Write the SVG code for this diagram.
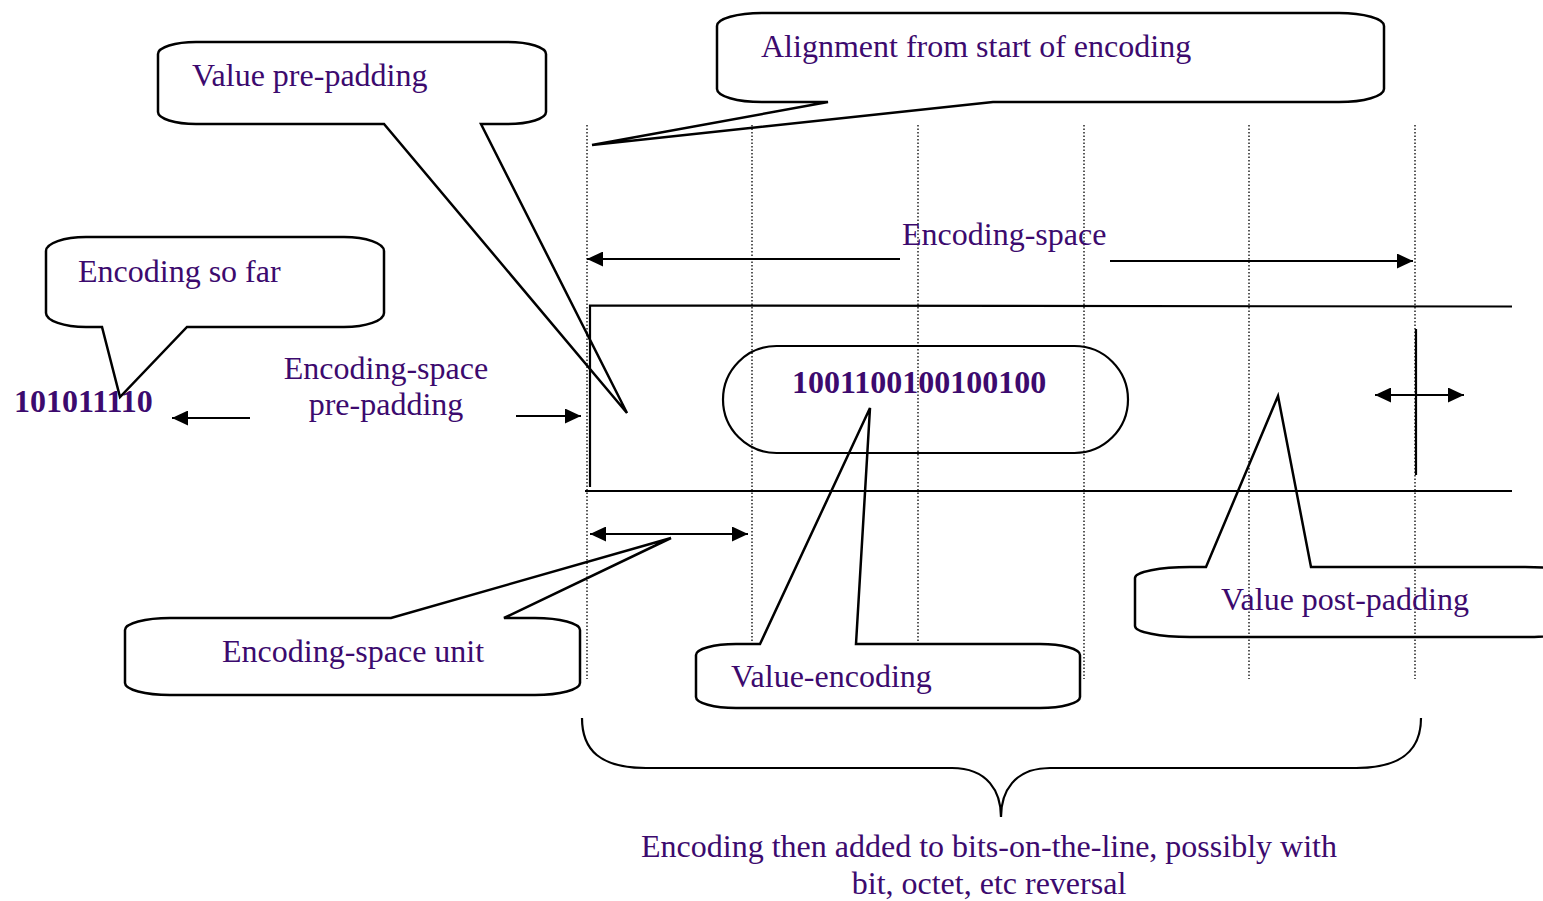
<svg xmlns="http://www.w3.org/2000/svg" width="1543" height="901" viewBox="0 0 1543 901">
<style>
.t{font-family:"Liberation Serif","Times New Roman",serif;font-size:32px;fill:#3c0a6e}
.b{font-weight:bold}
.co{fill:none;stroke:#000;stroke-width:2.5;stroke-linejoin:miter}
.ln{fill:none;stroke:#000;stroke-width:2.2}
.dot{fill:none;stroke:#000;stroke-width:1.3;stroke-dasharray:1.5,2}
</style>
<defs>
<marker id="ah" markerWidth="16" markerHeight="15" refX="16" refY="7.5" orient="auto-start-reverse" markerUnits="userSpaceOnUse">
<path d="M0,0 L16,7.5 L0,15 Z" fill="#000"/>
</marker>
</defs>
<rect width="1543" height="901" fill="#fff"/>
<g id="grid">
<line class="dot" x1="587" y1="125" x2="587" y2="679"/>
<line class="dot" x1="752" y1="125" x2="752" y2="644"/>
<line class="dot" x1="918" y1="125" x2="918" y2="644"/>
<line class="dot" x1="1084" y1="125" x2="1084" y2="679"/>
<line class="dot" x1="1249" y1="125" x2="1249" y2="679"/>
<line class="dot" x1="1415" y1="125" x2="1415" y2="679"/>
</g>
<g id="encoding-space-frame">
<polyline class="ln" points="590,487 590,305.5 1512,306.5"/>
<line class="ln" x1="585" y1="491" x2="1512" y2="491"/>
<line class="ln" x1="1416" y1="329" x2="1416" y2="475"/>
</g>
<g id="value-pill">
<rect class="ln" x="723" y="346" width="405" height="107" rx="53.5" ry="53.5"/>
<text class="t b" x="792" y="393">1001100100100100</text>
</g>
<g id="encoding-so-far-bits">
<text class="t b" x="14" y="412">101011110</text>
</g>
<g id="connectors">
<line class="ln" x1="900" y1="259" x2="587" y2="259" marker-end="url(#ah)"/>
<line class="ln" x1="1110" y1="261" x2="1413" y2="261" marker-end="url(#ah)"/>
<line class="ln" x1="250" y1="418" x2="172" y2="418" marker-end="url(#ah)"/>
<line class="ln" x1="516" y1="416" x2="581" y2="416" marker-end="url(#ah)"/>
<line class="ln" x1="590" y1="534" x2="748" y2="534" marker-start="url(#ah)" marker-end="url(#ah)"/>
<line class="ln" x1="1375" y1="395" x2="1464" y2="395" marker-start="url(#ah)" marker-end="url(#ah)"/>
</g>
<g id="label-encoding-space">
<text class="t" x="902" y="245">Encoding-space</text>
</g>
<g id="label-es-pre-padding">
<text class="t" x="386" y="379" text-anchor="middle">Encoding-space</text>
<text class="t" x="386" y="415" text-anchor="middle">pre-padding</text>
</g>
<g id="callout-value-pre-padding">
<path class="co" d="M196,42 H508 A38,12 0 0 1 546,54 V112 A38,12 0 0 1 508,124 H481 L627,413 L384,124 H196 A38,12 0 0 1 158,112 V54 A38,12 0 0 1 196,42 Z"/>
<text class="t" x="192" y="86">Value pre-padding</text>
</g>
<g id="callout-alignment">
<path class="co" d="M762,13 H1339 A45,13 0 0 1 1384,26 V89 A45,13 0 0 1 1339,102 H993 L592,145 L828,102 H762 A45,13 0 0 1 717,89 V26 A45,13 0 0 1 762,13 Z"/>
<text class="t" x="761" y="57">Alignment from start of encoding</text>
</g>
<g id="callout-encoding-so-far">
<path class="co" d="M86,237 H344 A40,14 0 0 1 384,251 V313 A40,14 0 0 1 344,327 H187 L120,397 L102,327 H86 A40,14 0 0 1 46,313 V251 A40,14 0 0 1 86,237 Z"/>
<text class="t" x="78" y="282">Encoding so far</text>
</g>
<g id="callout-es-unit">
<path class="co" d="M170,618 H391 L671,538 L504,618 H535 A45,12 0 0 1 580,630 V683 A45,12 0 0 1 535,695 H170 A45,12 0 0 1 125,683 V630 A45,12 0 0 1 170,618 Z"/>
<text class="t" x="222" y="662">Encoding-space unit</text>
</g>
<g id="callout-value-encoding">
<path class="co" d="M736,644 H760 L870,408 L856,644 H1040 A40,11 0 0 1 1080,655 V697 A40,11 0 0 1 1040,708 H736 A40,11 0 0 1 696,697 V655 A40,11 0 0 1 736,644 Z"/>
<text class="t" x="731" y="687">Value-encoding</text>
</g>
<g id="callout-value-post-padding">
<path class="co" d="M1190,567 H1206 L1278,396 L1311,567 H1525 A55,11 0 0 1 1580,578 V626 A55,11 0 0 1 1525,637 H1190 A55,11 0 0 1 1135,626 V578 A55,11 0 0 1 1190,567 Z"/>
<text class="t" x="1221" y="610">Value post-padding</text>
</g>
<g id="brace">
<path class="ln" d="M582,718 C582,750 600,768 646,768 L952,768 C988,768 1001,792 1001,817 C1001,792 1014,768 1050,768 L1356,768 C1402,768 1421,750 1421,718"/>
</g>
<g id="label-bottom">
<text class="t" x="989" y="857" text-anchor="middle">Encoding then added to bits-on-the-line, possibly with</text>
<text class="t" x="989" y="894" text-anchor="middle">bit, octet, etc reversal</text>
</g>
</svg>
